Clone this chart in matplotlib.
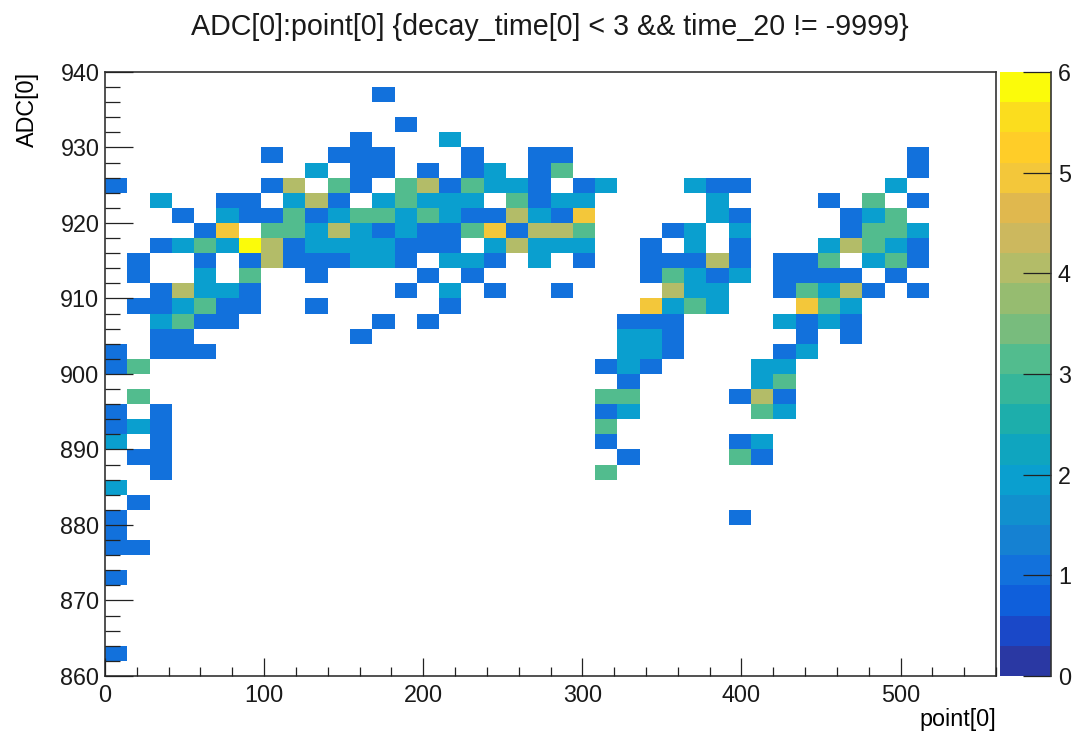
import matplotlib
matplotlib.use('Agg')
import matplotlib.pyplot as plt
from matplotlib.colors import ListedColormap, BoundaryNorm
from matplotlib.ticker import MultipleLocator
import numpy as np

# ROOT TH2 binning: 40 x 40 bins
x_edges = np.linspace(0, 560, 41)
y_edges = np.linspace(860, 940, 41)

# counts per bin, top row (938-940) first, one digit per x bin
rows = [
    "0000000000" "0000000000" "0000000000" "0000000000",
    "0000000000" "0010000000" "0000000000" "0000000000",
    "0000000000" "0000000000" "0000000000" "0000000000",
    "0000000000" "0001000000" "0000000000" "0000000000",
    "0000000000" "0100020000" "0000000000" "0000000000",
    "0000000100" "1110001001" "1000000000" "0000001000",
    "0000000002" "0110101201" "3000000000" "0000001000",
    "1000000140" "3103413221" "0120002110" "0000020000",
    "0020011024" "1023222031" "2200000200" "0010301000",
    "0001021131" "2332321142" "1500000210" "0001230000",
    "0000150332" "4212113514" "4300012020" "0001332000",
    "0012326412" "2221110242" "2200102010" "0024321000",
    "0100101411" "1221022102" "0100111410" "1130231000",
    "0100203001" "0000101000" "0000132120" "1111010000",
    "0014221000" "0001020100" "1000042200" "1324101000",
    "0112311001" "0000010000" "0000523200" "0532000000",
    "0023110000" "0010100000" "0001110000" "2121000000",
    "0011000000" "0100000000" "0002210000" "0101000000",
    "1011100000" "0000000000" "0002210000" "1200000000",
    "1300000000" "0000000000" "0012100002" "2000000000",
    "0000000000" "0000000000" "0001000002" "3000000000",
    "0300000000" "0000000000" "0033000014" "1000000000",
    "1010000000" "0000000000" "0012000003" "2000000000",
    "1210000000" "0000000000" "0030000000" "0000000000",
    "2010000000" "0000000000" "0010000012" "0000000000",
    "0110000000" "0000000000" "0001000031" "0000000000",
    "0010000000" "0000000000" "0030000000" "0000000000",
    "2000000000" "0000000000" "0000000000" "0000000000",
    "0100000000" "0000000000" "0000000000" "0000000000",
    "1000000000" "0000000000" "0000000010" "0000000000",
    "1000000000" "0000000000" "0000000000" "0000000000",
    "1100000000" "0000000000" "0000000000" "0000000000",
    "0000000000" "0000000000" "0000000000" "0000000000",
    "1000000000" "0000000000" "0000000000" "0000000000",
    "0000000000" "0000000000" "0000000000" "0000000000",
    "0000000000" "0000000000" "0000000000" "0000000000",
    "0000000000" "0000000000" "0000000000" "0000000000",
    "0000000000" "0000000000" "0000000000" "0000000000",
    "1000000000" "0000000000" "0000000000" "0000000000",
    "0000000000" "0000000000" "0000000000" "0000000000",
]
counts = np.array([[int(c) for c in r] for r in rows])[::-1]

# kBird palette in 20 contour levels as it looks in the colour bar
level_colors = ['#2A38A3', '#1A48C8', '#0F5FDB', '#1271DC', '#1581D2',
                '#1190CE', '#0A9FCF', '#0FA5BF', '#1DAEAB', '#36B69A',
                '#52BC8E', '#78BC7D', '#96BC70', '#B3BC68', '#CCB85E',
                '#E0B84E', '#F3C73A', '#FFCD28', '#FBDD1E', '#FBFB0A']
levels = np.linspace(0, 6, 21)

plt.rcParams['font.family'] = ['Liberation Sans', 'DejaVu Sans']
plt.rcParams['text.color'] = '#1a1a1a'
plt.rcParams['xtick.labelcolor'] = '#1a1a1a'
plt.rcParams['ytick.labelcolor'] = '#1a1a1a'

W, H = 1073, 731
fig = plt.figure(figsize=(W / 100, H / 100), dpi=100)
ax = fig.add_axes([105 / W, 1 - 676 / H, 891 / W, 604 / H])
cax = fig.add_axes([1000 / W, 1 - 676 / H, 51 / W, 604 / H])

cmap = ListedColormap(level_colors)
norm = BoundaryNorm(levels, cmap.N, clip=True)
ax.pcolormesh(x_edges, y_edges, np.ma.masked_equal(counts, 0), cmap=cmap, norm=norm)
ax.set_xlim(0, 560)
ax.set_ylim(860, 940)

ax.xaxis.set_major_locator(MultipleLocator(100))
ax.xaxis.set_minor_locator(MultipleLocator(20))
ax.yaxis.set_major_locator(MultipleLocator(10))
ax.yaxis.set_minor_locator(MultipleLocator(2))
ax.tick_params(axis='x', which='major', direction='in', length=13, width=0.9, labelsize=16.8, pad=6, color='#222222')
ax.tick_params(axis='x', which='minor', direction='in', length=6.5, width=0.9, color='#222222')
ax.tick_params(axis='y', which='major', direction='in', length=20, width=0.9, labelsize=16.8, pad=4, color='#222222')
ax.tick_params(axis='y', which='minor', direction='in', length=10.5, width=0.9, color='#222222')
for side in ax.spines:
    ax.spines[side].set_linewidth(1.2)
    ax.spines[side].set_color('#333333')
ax.set_axisbelow(False)

ax.set_xlabel('point[0]', loc='right', fontsize=16.8, labelpad=0.3)
ax.set_ylabel('ADC[0]', loc='top', fontsize=16.8, labelpad=15.6)
fig.text(550 / W, 1 - 27 / H, 'ADC[0]:point[0] {decay_time[0] < 3 && time_20 != -9999}',
         ha='center', va='center', fontsize=20.6)

# colour bar
cax.pcolormesh([0, 1], levels, np.array(levels[:-1] + 0.15).reshape(-1, 1), cmap=cmap, norm=norm)
cax.set_xticks([])
cax.set_ylim(0, 6)
cax.yaxis.tick_right()
cax.set_yticks(range(7))
cax.tick_params(axis='y', direction='in', length=20, width=0.9, labelsize=16.8, pad=5, color='#222222')
for side in ['top', 'bottom', 'left']:
    cax.spines[side].set_visible(False)
cax.spines['right'].set_linewidth(1.2)
cax.spines['right'].set_color('#333333')

fig.savefig('out.png', dpi=100)
